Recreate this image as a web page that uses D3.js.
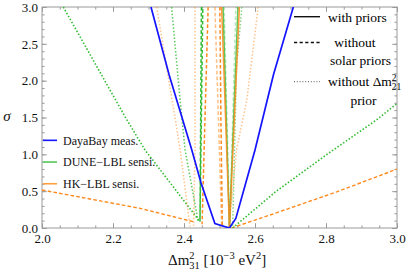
<!DOCTYPE html>
<html>
<head>
<meta charset="utf-8">
<script src="https://cdn.jsdelivr.net/npm/d3@7"></script>
<style>
  body { margin: 0; background: #fff; }
  svg text { font-family: "Liberation Serif", "DejaVu Serif", serif; }
</style>
</head>
<body>
<svg id="chart" width="407" height="271"></svg>
<script>
// ---- data (x = dm31^2 in 1e-3 eV^2, y = sigma) ----
var xTicks = [2.0, 2.2, 2.4, 2.6, 2.8, 3.0];
var yTicks = [0.0, 0.5, 1.0, 1.5, 2.0, 2.5, 3.0];

var dayaBay = [[2.307,3.0],[2.358,2.08],[2.422,1.06],[2.448,0.61],[2.487,0.06],[2.528,0.0],[2.546,0.13],[2.600,1.06],[2.652,2.08],[2.708,3.0]];

var duneSolid = [[2.510,3.0],[2.528,0.0],[2.552,3.0]];
var duneDashed = [[2.449,3.0],[2.445,0.086],[2.453,3.0]];
var duneDashedMain = [[2.513,3.0],[2.529,0.0],[2.546,3.0]];
var duneDottedWideL = [[2.060,3.0],[2.234,1.51],[2.290,1.06],[2.445,0.086]];
var duneDottedWideR = [[2.537,0.0],[2.660,0.50],[2.800,0.99],[2.943,1.47],[3.0,1.69]];
var duneDottedL = [[2.365,3.0],[2.389,1.74],[2.403,1.06],[2.440,0.086]];
var duneDottedR = [[2.563,3.0],[2.548,2.19],[2.537,0.0]];

var hkSolid = [[2.506,3.0],[2.528,0.0],[2.556,3.0]];
var hkDashedWideL = [[2.0,0.516],[2.276,0.267],[2.426,0.086]];
var hkDashedWideR = [[2.534,0.0],[2.642,0.176],[2.830,0.49],[3.0,0.80]];
var hkDashed = [[2.468,3.0],[2.459,1.47],[2.451,0.05]];
var hkDashedMainA = [[2.487,3.0],[2.497,1.49],[2.506,0.02]];
var hkDashedMainB = [[2.501,3.0],[2.504,1.47],[2.508,0.02]];
var hkDottedL1 = [[2.323,3.0],[2.375,1.49],[2.389,1.06],[2.417,0.02]];
var hkDottedL2 = [[2.431,3.0],[2.431,1.06],[2.427,0.03]];
var hkDottedR = [[2.609,3.0],[2.577,1.74],[2.548,1.06],[2.527,0.01]];

var legendNames = ["DayaBay meas.", "DUNE\u2212LBL sensi.", "HK\u2212LBL sensi."];

// ---- layout ----
var margin = {top: 7, right: 10, bottom: 43, left: 42};
var W = 407, H = 271;
var w = W - margin.left - margin.right, h = H - margin.top - margin.bottom;

var blue = "#1414ff", green = "#33bb33", orange = "#ff8a1c";
var DASH = "3.6,2.2", DOT = "1.5,1.9";

var svg = d3.select("#chart");
var g = svg.append("g").attr("transform", "translate(" + margin.left + "," + margin.top + ")");

var x = d3.scaleLinear().domain([2.0, 3.0]).range([0, w]);
var y = d3.scaleLinear().domain([0, 3.0]).range([h, 0]);

g.append("clipPath").attr("id", "clip").append("rect").attr("width", w).attr("height", h);

// frame ticks (pointing inward, like the mathematica frame)
var tickCol = "#9a9a9a";
function styleAxis(sel) {
  sel.select(".domain").remove();
  sel.selectAll(".tick line").attr("stroke", tickCol);
  sel.selectAll("text").attr("fill", "#111").style("font-size", "13px")
    .style("font-family", "'Liberation Serif', serif");
}
var xMinor = d3.range(2.0, 3.0001, 0.05);
var yMinor = d3.range(0, 3.0001, 0.1);

g.append("g").attr("transform", "translate(0," + h + ")")
  .call(d3.axisBottom(x).tickValues(xMinor).tickSize(-2.6).tickFormat("")).call(styleAxis);
g.append("g").attr("transform", "translate(0," + h + ")")
  .call(d3.axisBottom(x).tickValues(xTicks).tickSize(-4.8).tickPadding(6).tickFormat(d3.format(".1f"))).call(styleAxis);
g.append("g")
  .call(d3.axisTop(x).tickValues(xMinor).tickSize(-2.6).tickFormat("")).call(styleAxis);
g.append("g")
  .call(d3.axisTop(x).tickValues(xTicks).tickSize(-4.8).tickFormat("")).call(styleAxis);

g.append("g").call(d3.axisLeft(y).tickValues(yMinor).tickSize(-2.6).tickFormat("")).call(styleAxis);
g.append("g").call(d3.axisLeft(y).tickValues(yTicks).tickSize(-4.8).tickPadding(4).tickFormat(d3.format(".1f"))).call(styleAxis);
g.append("g").attr("transform", "translate(" + w + ",0)")
  .call(d3.axisRight(y).tickValues(yMinor).tickSize(-2.6).tickFormat("")).call(styleAxis);
g.append("g").attr("transform", "translate(" + w + ",0)")
  .call(d3.axisRight(y).tickValues(yTicks).tickSize(-4.8).tickFormat("")).call(styleAxis);

g.append("rect").attr("width", w).attr("height", h)
  .attr("fill", "none").attr("stroke", tickCol).attr("stroke-width", 1);

// ---- curves ----
var line = d3.line().x(function (d) { return x(d[0]); }).y(function (d) { return y(d[1]); });

var series = [
  {data: hkDashedWideL, color: orange, dash: DASH, op: 1, lw: 1.4},
  {data: hkDashedWideR, color: orange, dash: DASH, op: 1, lw: 1.4},
  {data: duneDottedWideL, color: green, dash: DOT, op: 1, lw: 1.6},
  {data: duneDottedWideR, color: green, dash: DOT, op: 1, lw: 1.6},
  {data: hkDottedL1, color: orange, dash: DOT, op: 0.5, lw: 1.5},
  {data: hkDottedL2, color: orange, dash: DOT, op: 0.5, lw: 1.5},
  {data: hkDottedR, color: orange, dash: DOT, op: 0.5, lw: 1.5},
  {data: duneDottedL, color: green, dash: DOT, op: 0.8, lw: 1.5},
  {data: duneDottedR, color: green, dash: DOT, op: 0.6, lw: 1.5},
  {data: duneDashed, color: green, dash: DASH, op: 1, lw: 1.5},
  {data: duneDashedMain, color: green, dash: DASH, op: 0.35, lw: 1.5},
  {data: hkDashed, color: orange, dash: DASH, op: 1, lw: 1.5},
  {data: hkDashedMainA, color: orange, dash: DASH, op: 0.55, lw: 1.5},
  {data: hkDashedMainB, color: orange, dash: DASH, op: 1, lw: 1.5},
  {data: duneSolid, color: green, dash: null, op: 0.8, lw: 1.5},
  {data: hkSolid, color: orange, dash: null, op: 0.85, lw: 1.5},
  {data: dayaBay, color: blue, dash: null, op: 1, lw: 1.7}
];

var plot = g.append("g").attr("clip-path", "url(#clip)");
series.forEach(function (s) {
  plot.append("path")
    .datum(s.data)
    .attr("d", line)
    .attr("fill", "none")
    .attr("stroke", s.color)
    .attr("stroke-opacity", s.op)
    .attr("stroke-width", s.lw)
    .attr("stroke-dasharray", s.dash);
});

// ---- legend (experiments) ----
var legColors = [blue, "#55c855", "#ffa040"];
var leg = g.append("g");
legendNames.forEach(function (name, i) {
  var ly = y(1.19) + i * 21.7;
  leg.append("line").attr("x1", 1).attr("x2", 15).attr("y1", ly).attr("y2", ly)
    .attr("stroke", legColors[i]).attr("stroke-width", 1.6);
  leg.append("text").attr("x", 21).attr("y", ly + 4.2).style("font-size", "12px").attr("fill", "#111").text(name);
});

// ---- legend (line styles) ----
var sl = g.append("g");
var styles = [null, "3.2,2.4", "1,1.8"];
var sy = [9.7, 35.5, 74.7];
styles.forEach(function (d, i) {
  sl.append("line").attr("x1", 252).attr("x2", 278).attr("y1", sy[i]).attr("y2", sy[i])
    .attr("stroke", i == 2 ? "#555" : "#111").attr("stroke-width", i == 2 ? 1 : 1.4)
    .attr("stroke-dasharray", d);
});
sl.append("text").attr("x", 286).attr("y", 14.5).style("font-size", "13.5px").text("with priors");
sl.append("text").attr("x", 313).attr("y", 39.5).attr("text-anchor", "middle").style("font-size", "13.5px").text("without");
sl.append("text").attr("x", 318.5).attr("y", 57.5).attr("text-anchor", "middle").style("font-size", "13.5px").text("solar priors");
var t3 = sl.append("text").attr("x", 286).attr("y", 79).style("font-size", "13.5px");
t3.append("tspan").text("without \u0394m");
t3.append("tspan").attr("dy", -5.5).style("font-size", "9.5px").text("2");
t3.append("tspan").attr("dx", -4.8).attr("dy", 9).style("font-size", "9.5px").text("21");
sl.append("text").attr("x", 321.5).attr("y", 97.5).attr("text-anchor", "middle").style("font-size", "13.5px").text("prior");

// ---- axis labels ----
var xl = svg.append("text").attr("x", 168).attr("y", 265).style("font-size", "15px").attr("fill", "#111");
xl.append("tspan").text("\u0394m");
xl.append("tspan").attr("dy", -6).style("font-size", "10.5px").text("2");
xl.append("tspan").attr("dx", -5.3).attr("dy", 9.5).style("font-size", "10.5px").text("31");
xl.append("tspan").attr("dy", -3.5).text(" [10");
xl.append("tspan").attr("dy", -6).style("font-size", "10.5px").text("\u22123");
xl.append("tspan").attr("dy", 6).text(" eV");
xl.append("tspan").attr("dy", -6).style("font-size", "10.5px").text("2");
xl.append("tspan").attr("dy", 6).text("]");

svg.append("text").attr("x", 7).attr("y", 121).attr("text-anchor", "middle")
  .style("font-size", "15px").style("font-style", "italic").attr("fill", "#111").text("\u03c3");
</script>
</body>
</html>
